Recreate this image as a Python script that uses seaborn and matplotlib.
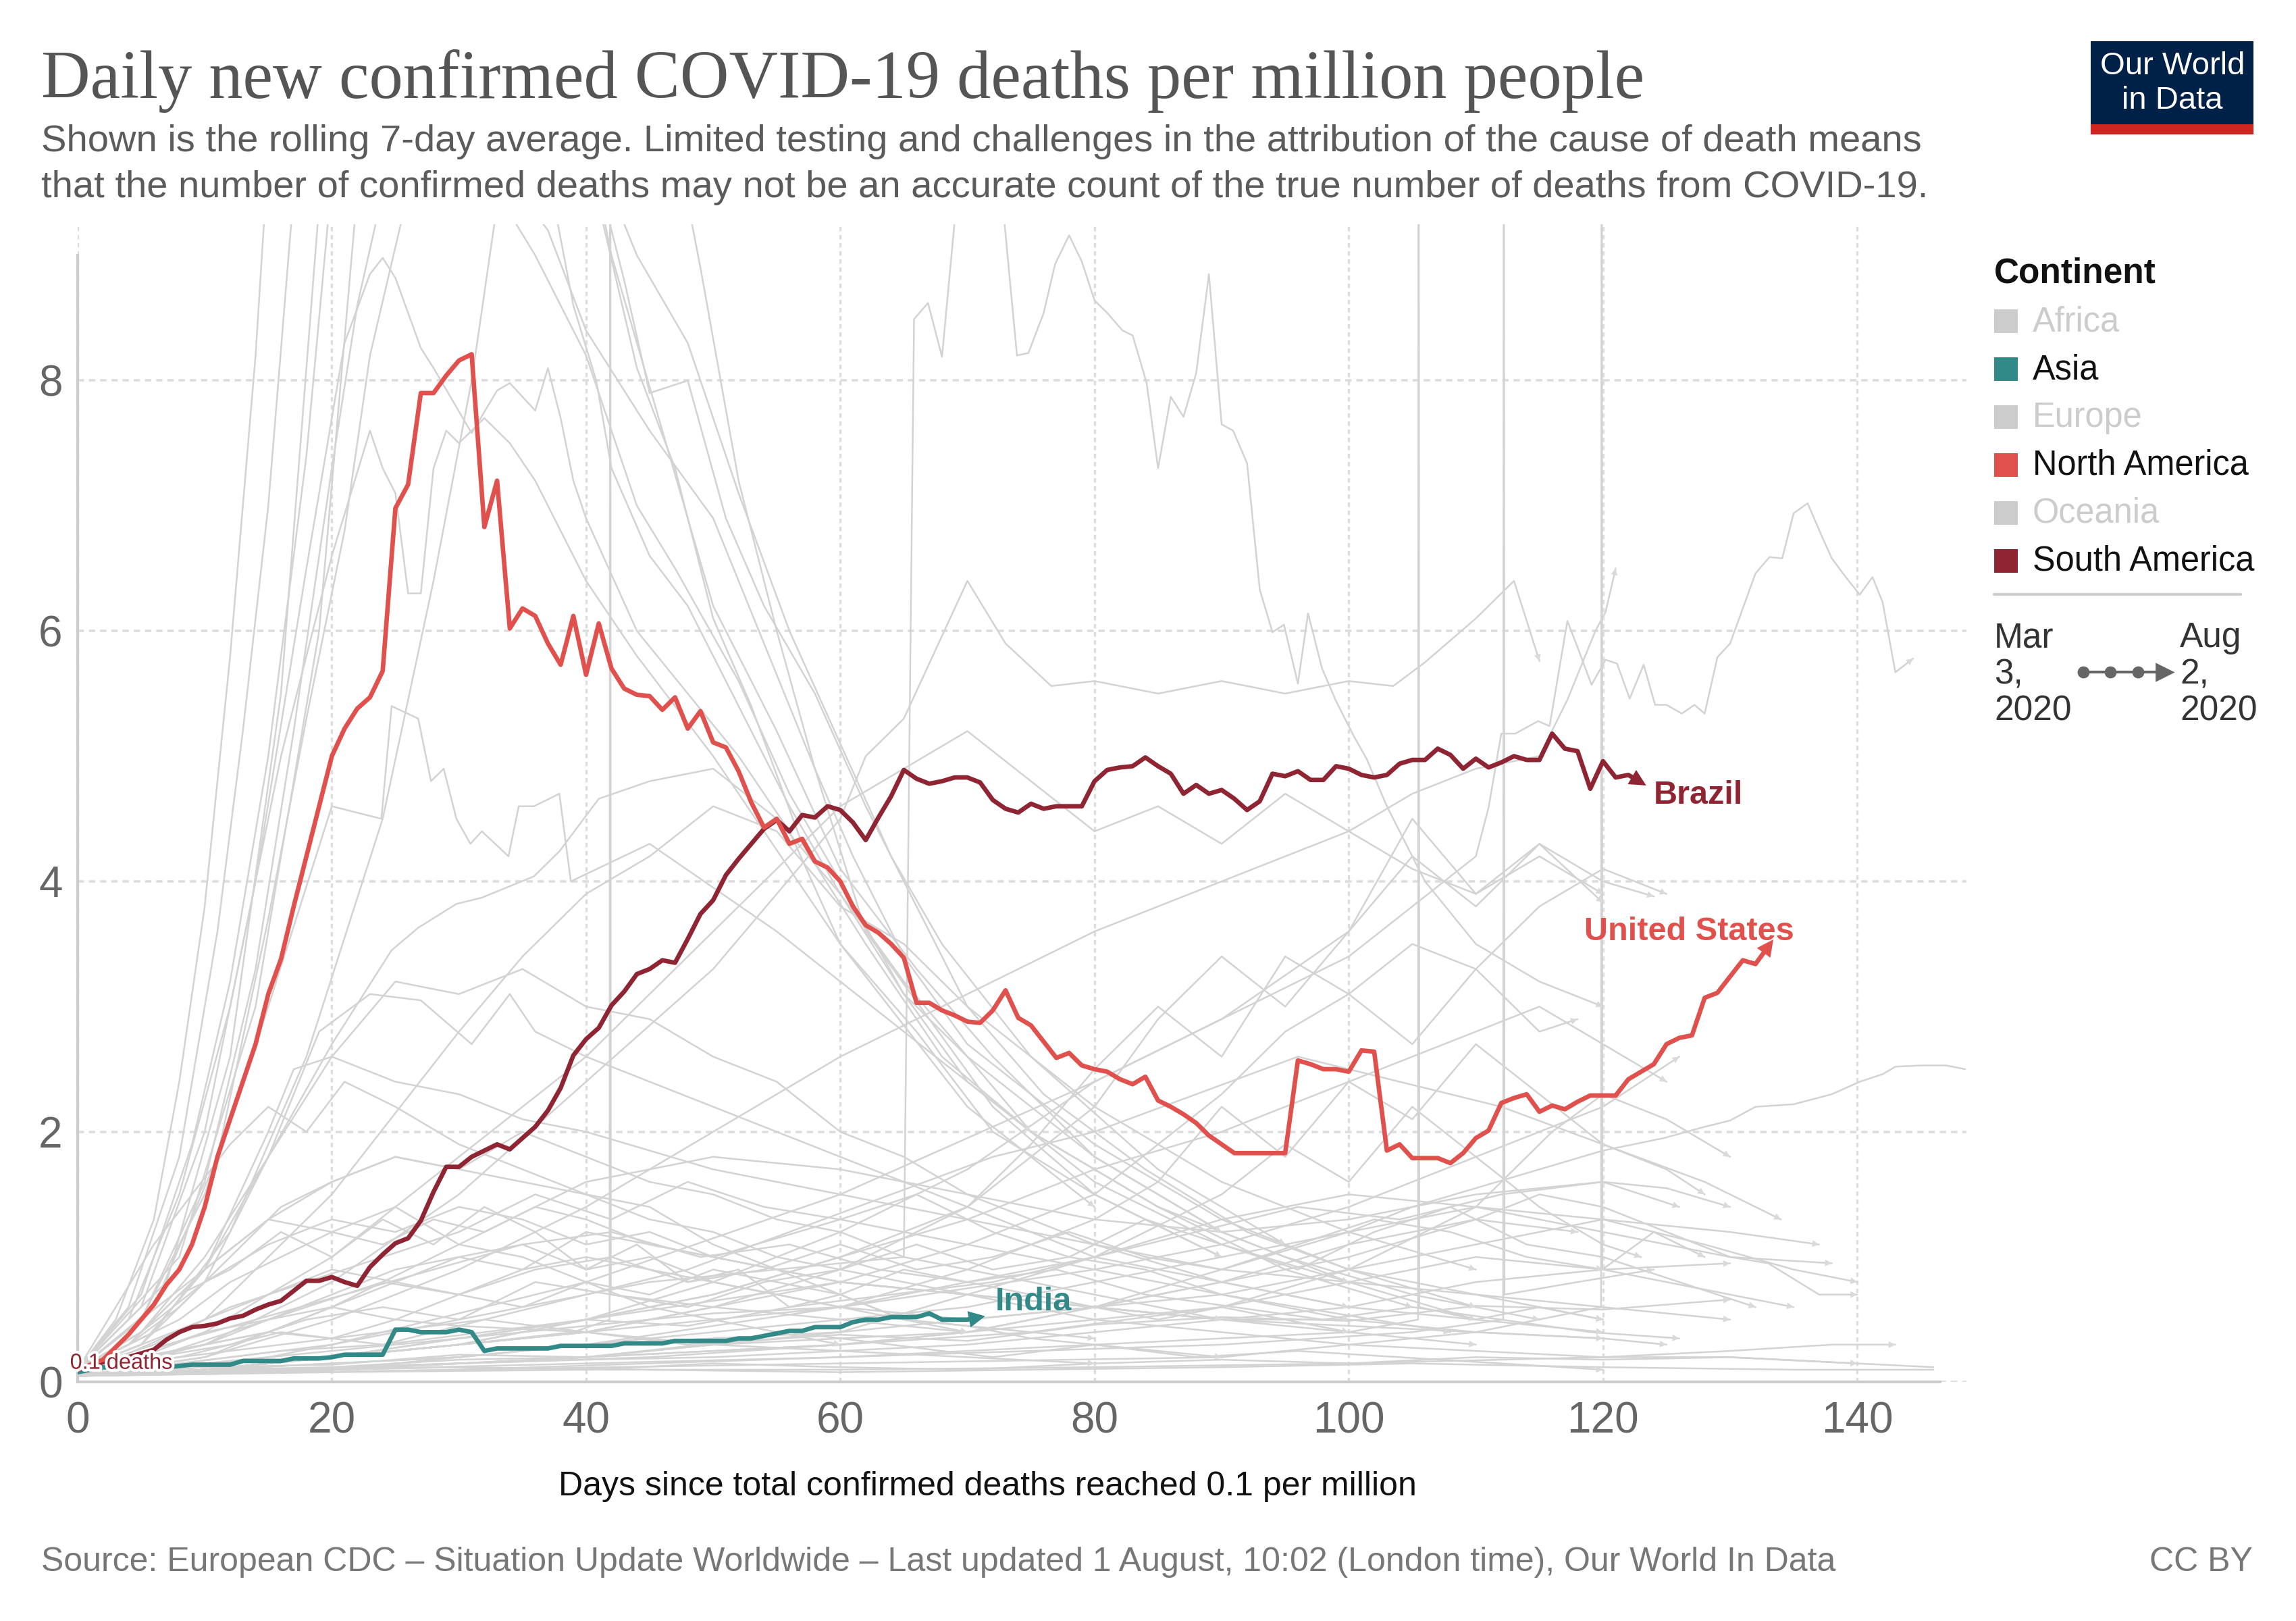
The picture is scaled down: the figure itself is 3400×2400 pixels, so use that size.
import numpy as np
import pandas as pd
import seaborn as sns
import matplotlib
matplotlib.use("Agg")
import matplotlib.pyplot as plt
from matplotlib.patches import Rectangle
import matplotlib.patheffects as pe

# ---------------- data ----------------
us_values = [0.10, 0.14, 0.18, 0.28, 0.38, 0.50, 0.62, 0.78, 0.90, 1.10,
             1.40, 1.80, 2.10, 2.40, 2.70, 3.10, 3.38, 3.80, 4.20, 4.60,
             5.00, 5.22, 5.38, 5.47, 5.68, 6.98, 7.17, 7.90, 7.90, 8.04,
             8.16, 8.21, 6.83, 7.20, 6.02, 6.18, 6.12, 5.90, 5.73, 6.12,
             5.65, 6.06, 5.70, 5.54, 5.49, 5.48, 5.37, 5.47, 5.22, 5.36,
             5.11, 5.07, 4.88, 4.63, 4.43, 4.50, 4.30, 4.34, 4.16, 4.11,
             4.00, 3.80, 3.65, 3.59, 3.50, 3.39, 3.03, 3.03, 2.97, 2.93,
             2.88, 2.87, 2.97, 3.13, 2.91, 2.85, 2.72, 2.59, 2.63, 2.53,
             2.50, 2.48, 2.42, 2.38, 2.44, 2.25, 2.20, 2.14, 2.07, 1.97,
             1.90, 1.83, 1.83, 1.83, 1.83, 1.83, 2.57, 2.54, 2.50, 2.50,
             2.48, 2.65, 2.64, 1.85, 1.90, 1.79, 1.79, 1.79, 1.75, 1.83,
             1.95, 2.01, 2.23, 2.27, 2.30, 2.16, 2.21, 2.18, 2.24, 2.29,
             2.29, 2.29, 2.42, 2.48, 2.54, 2.70, 2.75, 2.77, 3.07, 3.11,
             3.24, 3.37, 3.34, 3.48]

brazil_values = [0.10, 0.13, 0.16, 0.19, 0.20, 0.23, 0.26, 0.34, 0.40, 0.44,
                 0.45, 0.47, 0.51, 0.53, 0.58, 0.62, 0.65, 0.73, 0.81, 0.81,
                 0.84, 0.80, 0.77, 0.92, 1.02, 1.11, 1.15, 1.29, 1.52, 1.72,
                 1.72, 1.80, 1.85, 1.90, 1.86, 1.95, 2.04, 2.17, 2.35, 2.61,
                 2.74, 2.83, 3.01, 3.12, 3.26, 3.30, 3.37, 3.35, 3.54, 3.74,
                 3.85, 4.05, 4.18, 4.30, 4.42, 4.49, 4.40, 4.53, 4.51, 4.60,
                 4.57, 4.47, 4.33, 4.51, 4.68, 4.89, 4.82, 4.78, 4.80, 4.83,
                 4.83, 4.79, 4.65, 4.58, 4.55, 4.62, 4.58, 4.60, 4.60, 4.60,
                 4.80, 4.89, 4.91, 4.92, 4.99, 4.92, 4.86, 4.70, 4.77, 4.70,
                 4.73, 4.66, 4.57, 4.64, 4.86, 4.84, 4.88, 4.81, 4.81, 4.92,
                 4.90, 4.85, 4.83, 4.85, 4.94, 4.97, 4.97, 5.06, 5.01, 4.90,
                 4.98, 4.91, 4.95, 5.00, 4.97, 4.97, 5.18, 5.06, 5.04, 4.74,
                 4.96, 4.83, 4.85, 4.79]

india_values = [0.08, 0.10, 0.12, 0.12, 0.12, 0.12, 0.12, 0.12, 0.13, 0.14,
                0.14, 0.14, 0.14, 0.17, 0.17, 0.17, 0.17, 0.19, 0.19, 0.19,
                0.20, 0.22, 0.22, 0.22, 0.22, 0.42, 0.42, 0.40, 0.40, 0.40,
                0.42, 0.40, 0.25, 0.27, 0.27, 0.27, 0.27, 0.27, 0.29, 0.29,
                0.29, 0.29, 0.29, 0.31, 0.31, 0.31, 0.31, 0.33, 0.33, 0.33,
                0.33, 0.33, 0.35, 0.35, 0.37, 0.39, 0.41, 0.41, 0.44, 0.44,
                0.44, 0.48, 0.50, 0.50, 0.52, 0.52, 0.52, 0.55, 0.50, 0.50,
                0.50, 0.52]

# other countries, drawn in grey: (days, values)
grey_series = [
    ([0, 3, 6, 8, 10, 12, 14, 15, 20, 30, 38, 42, 46, 50, 55, 60, 66, 72, 80, 90, 100, 110],
     [0.1, 0.5, 1.3, 2.4, 3.8, 5.8, 8.2, 9.8, 13, 14, 11, 9.0, 7.6, 6.2, 5.2, 4.1, 3.3, 2.6, 1.8, 1.2, 0.8, 0.5]),
    ([0, 4, 8, 11, 13, 15, 17, 25, 35, 41, 44, 47, 50, 53, 57, 62, 68, 75, 85, 95, 105, 115],
     [0.1, 0.6, 1.8, 3.6, 5.2, 7.0, 9.5, 12, 12, 9.4, 8.1, 7.3, 6.1, 5.4, 4.3, 3.5, 2.6, 2.0, 1.4, 1.0, 0.7, 0.5]),
    ([0, 5, 9, 12, 15, 18, 20, 30, 40, 43, 45, 48, 51, 54, 58, 62, 66, 70, 76, 84, 92, 100, 110, 120],
     [0.1, 0.7, 1.9, 3.2, 5.0, 7.4, 9.6, 11, 10, 8.8, 7.9, 8.0, 6.9, 6.2, 5.5, 4.6, 3.8, 3.0, 2.3, 1.7, 1.2, 0.9, 0.7, 0.5]),
    ([0, 5, 10, 14, 17, 20, 22, 24, 30, 36, 40, 44, 47, 52, 56, 60, 65, 70, 80, 90, 100],
     [0.1, 0.5, 1.6, 3.3, 5.2, 7.3, 8.6, 9.5, 10, 9.0, 8.2, 7.0, 6.5, 5.6, 4.7, 4.0, 3.1, 2.4, 1.6, 1.1, 0.8]),
    ([0, 6, 11, 15, 18, 21, 23, 26, 30, 34, 37, 40, 45, 50, 54, 58, 62, 67, 72, 80, 90],
     [0.1, 0.6, 1.8, 3.7, 5.3, 6.8, 8.2, 9.5, 10.5, 9.6, 9.2, 8.4, 7.6, 6.9, 5.9, 4.9, 3.6, 2.9, 2.2, 1.5, 1.0]),
    ([0, 8, 14, 19, 22, 30, 40, 44, 48, 52, 56, 60, 64, 68, 75, 85, 95],
     [0.1, 1.0, 3.0, 6.0, 9.5, 12, 10, 9.0, 8.3, 7.1, 6.0, 5.1, 4.2, 3.5, 2.6, 1.7, 1.1]),
    ([0, 7, 12, 16, 19, 30, 45, 49, 52, 55, 58, 61, 65, 70, 80, 90, 100, 110],
     [0.1, 0.8, 2.6, 5.5, 9.4, 13, 11, 8.9, 7.2, 6.0, 4.9, 4.2, 3.4, 2.7, 1.9, 1.3, 0.9, 0.6]),
    ([0, 5, 10, 15, 20, 25, 30, 35, 40, 45, 50, 55, 60, 65, 65.8, 66.9, 68, 69.3, 72.6, 73.9, 74.8, 76,
      76.9, 78, 79, 80, 81, 82.2, 83, 84.1, 85, 86, 87, 88, 89, 90, 90.9, 92, 93, 94, 94.9, 96, 96.8,
      97.9, 99, 100.4, 101.4, 103, 106, 110, 115, 120],
     [0.05, 0.1, 0.15, 0.2, 0.3, 0.4, 0.5, 0.6, 0.7, 0.8, 0.85, 0.9, 0.95, 1.0, 8.49, 8.62, 8.19, 9.6,
      9.6, 8.2, 8.22, 8.54, 8.93, 9.16, 8.95, 8.64, 8.54, 8.40, 8.36, 7.98, 7.30, 7.87, 7.71, 8.06, 8.85,
      7.65, 7.60, 7.34, 6.33, 5.99, 6.05, 5.58, 6.14, 5.70, 5.44, 5.16, 4.98, 4.6, 4.0, 3.5, 3.2, 3.0]),
    ([0, 5, 10, 14, 18, 21, 23, 24, 25, 27, 28, 31, 33, 34, 36, 37, 38, 39, 40, 44, 48, 52, 56, 60, 66, 72, 80, 90],
     [0.1, 0.6, 2.0, 4.0, 6.5, 8.3, 8.85, 8.98, 8.82, 8.26, 8.1, 7.58, 7.92, 7.98, 7.76, 8.1, 7.7, 7.2, 6.9,
      6.0, 5.5, 5.0, 4.4, 3.5, 2.8, 2.0, 1.5, 1.0]),
    ([0, 4, 8, 12, 16, 20, 23, 24, 25, 26, 27, 28, 29, 30, 32, 34, 36, 40, 44, 50, 60, 70, 80],
     [0.1, 0.5, 1.5, 3.0, 5.0, 6.6, 7.6, 7.3, 7.1, 6.3, 6.3, 7.3, 7.6, 7.5, 7.7, 7.5, 7.2, 6.4, 5.8, 5.0, 3.5, 2.2, 1.4]),
    ([0, 5, 10, 15, 20, 23.9, 24.7, 26.8, 27.8, 28.8, 29.8, 30.9, 31.8, 33.9, 34.7, 35.9, 37.9, 38.8, 45, 55, 65, 75],
     [0.1, 0.5, 1.5, 3.0, 4.6, 4.5, 5.4, 5.3, 4.8, 4.9, 4.5, 4.3, 4.4, 4.2, 4.6, 4.6, 4.7, 4.0, 4.3, 3.6, 2.8, 2.0]),
    ([0, 6, 12, 18, 24, 28, 31, 33, 36, 39, 40.8, 42, 45, 48, 52, 56, 60, 65, 70, 75, 85, 95, 105],
     [0.1, 0.4, 1.2, 2.6, 4.5, 6.4, 8.0, 9.4, 10.2, 8.6, 8.0, 7.3, 6.6, 6.2, 5.4, 4.6, 3.9, 3.1, 2.6, 2.0, 1.4, 0.9, 0.6]),
    ([0, 5, 10, 15, 20, 24.7, 26.8, 29.8, 31.8, 35.9, 37.9, 41, 45, 50, 55, 60, 65, 70, 80, 90],
     [0.1, 0.3, 0.9, 1.8, 2.7, 3.45, 3.63, 3.82, 3.87, 4.04, 4.24, 4.66, 4.8, 4.9, 4.5, 3.9, 3.2, 2.6, 1.8, 1.2]),
    ([0, 5, 10, 15, 19, 23, 27, 31, 34, 36, 40, 45, 50, 60, 70, 80, 100, 120],
     [0.1, 0.3, 0.8, 1.8, 2.8, 3.1, 3.05, 2.7, 3.1, 2.8, 2.6, 2.4, 2.2, 1.8, 1.4, 1.0, 0.6, 0.4]),
    ([0, 5, 10, 15, 17, 20, 25, 30, 35, 40, 50, 60, 70, 80, 90, 100, 110, 120, 130],
     [0.1, 0.3, 0.9, 2.0, 2.5, 2.6, 2.4, 2.3, 2.1, 2.0, 1.7, 1.5, 1.3, 1.1, 0.9, 0.8, 0.7, 0.6, 0.5]),
    ([0, 5, 10, 15, 20, 25, 30, 35, 40, 45, 50, 55, 60, 65, 70, 75, 80, 90, 100],
     [0.1, 0.4, 1.0, 1.8, 2.6, 3.2, 3.1, 3.3, 3.0, 2.9, 2.6, 2.4, 2.0, 1.8, 1.5, 1.3, 1.1, 0.8, 0.6]),
    ([0, 10, 20, 30, 35, 40, 45, 50, 55, 60, 65, 70, 75, 80, 85, 90, 100, 110],
     [0.05, 0.5, 1.5, 2.8, 3.4, 3.9, 4.2, 4.6, 4.4, 3.8, 3.5, 3.0, 2.6, 2.2, 1.9, 1.6, 1.2, 0.9]),
    ([0, 10, 20, 30, 40, 45, 50, 55, 60, 65, 70, 75, 80, 85, 90, 95, 100, 105, 110, 115, 120],
     [0.05, 0.4, 1.0, 1.8, 2.6, 3.1, 3.6, 4.1, 4.6, 4.9, 5.2, 4.8, 4.4, 4.6, 4.3, 4.7, 4.4, 4.1, 3.9, 4.2, 3.9]),
    ([0, 10, 20, 30, 40, 50, 60, 62, 65, 70, 73, 76.6, 80, 85, 90, 95, 100, 103.5, 106, 110, 112, 113, 115],
     [0.05, 0.3, 0.8, 1.5, 2.4, 3.3, 4.5, 5.0, 5.3, 6.4, 5.9, 5.56, 5.6, 5.5, 5.6, 5.5, 5.6, 5.56, 5.75, 6.1, 6.3, 6.4, 5.76]),
    ([0, 10, 20, 30, 40, 50, 60, 70, 80, 90, 100, 105, 110, 115, 117.2, 119.4, 120.2, 121],
     [0.05, 0.2, 0.5, 0.9, 1.4, 2.0, 2.6, 3.1, 3.6, 4.0, 4.4, 4.7, 4.9, 5.0, 5.45, 6.0, 6.15, 6.5]),
    ([0, 20, 40, 60, 80, 100, 110, 111, 112, 113.1, 114.9, 115.8, 117.2, 118, 119.1, 120.2, 121.1, 122.1,
      123.2, 124.1, 125, 126.2, 127.2, 128, 129, 130, 132, 133.1, 134.1, 135, 136.1, 137.2, 138, 139.1,
      140.2, 141.2, 142, 143, 144.4],
     [0.05, 0.3, 0.8, 1.5, 2.4, 3.4, 4.2, 4.59, 5.18, 5.18, 5.28, 5.24, 6.08, 5.87, 5.57, 5.77, 5.74, 5.46,
      5.73, 5.41, 5.41, 5.34, 5.41, 5.34, 5.79, 5.90, 6.46, 6.59, 6.58, 6.94, 7.02, 6.76, 6.58, 6.43,
      6.29, 6.43, 6.23, 5.67, 5.78]),
    ([0, 20, 40, 60, 70, 80, 90, 100, 105, 110, 115, 120, 124.8, 128, 130, 132, 135, 138, 140.2, 142, 143, 145, 147, 148.5],
     [0.05, 0.1, 0.2, 0.3, 0.4, 0.6, 0.9, 1.2, 1.4, 1.55, 1.7, 1.85, 1.95, 2.04, 2.09, 2.2, 2.22, 2.3, 2.4, 2.46, 2.52, 2.53, 2.53, 2.5]),
    ([0, 20, 40, 60, 80, 100, 105.45, 105.5, 105.55, 110, 115, 120],
     [0.05, 0.1, 0.15, 0.2, 0.3, 0.4, 0.5, 14, 0.6, 0.5, 0.6, 0.5]),
    ([0, 30, 60, 90, 105, 112.15, 112.2, 112.25, 118, 124],
     [0.05, 0.1, 0.2, 0.3, 0.4, 0.5, 14, 0.7, 0.8, 0.9]),
    ([0, 30, 60, 90, 110, 119.85, 119.9, 119.95, 124, 128],
     [0.05, 0.1, 0.15, 0.2, 0.4, 0.6, 14, 0.9, 1.2, 1.0]),
    ([0, 10, 20, 30, 39, 41.85, 41.9, 41.95, 50, 60, 70],
     [0.05, 0.1, 0.2, 0.3, 0.4, 0.5, 14, 0.7, 0.6, 0.5, 0.4]),
    ([0, 5, 10, 15, 20, 25, 30, 35, 40, 45, 50, 60, 70, 80, 90, 100, 110, 120, 125],
     [0.1, 0.4, 0.8, 1.1, 1.3, 1.2, 1.4, 1.3, 1.1, 1.2, 1.0, 0.8, 0.7, 0.6, 0.5, 0.5, 0.4, 0.35, 0.3]),
    ([0, 4, 8, 12, 16, 20, 24, 28, 32, 36, 40, 44, 48, 52, 56, 60, 65, 70, 75, 80, 85, 90],
     [0.1, 0.3, 0.7, 0.9, 1.2, 1.0, 1.3, 1.1, 1.4, 1.2, 0.9, 1.1, 0.8, 0.9, 0.6, 0.7, 0.5, 0.45, 0.35, 0.3, 0.25, 0.2]),
    ([0, 6, 12, 18, 24, 30, 36, 42, 48, 54, 60, 66, 72, 78, 84, 90, 96, 102, 108, 114, 120],
     [0.05, 0.2, 0.4, 0.6, 0.8, 0.7, 0.9, 1.0, 0.8, 0.9, 1.1, 0.9, 1.0, 1.2, 1.0, 0.9, 1.1, 1.3, 1.2, 1.0, 0.9]),
    ([0, 5, 10, 15, 20, 25, 30, 35, 40, 50, 60, 70, 80, 90, 100, 110, 118],
     [0.1, 0.2, 0.3, 0.5, 0.6, 0.8, 0.7, 0.9, 1.0, 0.8, 0.6, 0.5, 0.6, 0.8, 1.1, 1.3, 1.2]),
    ([0, 8, 16, 24, 32, 40, 48, 56, 64, 72, 80, 88, 96, 104, 112, 120, 126],
     [0.05, 0.15, 0.25, 0.3, 0.4, 0.5, 0.45, 0.6, 0.7, 0.8, 1.0, 1.2, 1.4, 1.3, 1.5, 1.6, 1.4]),
    ([0, 10, 20, 30, 40, 50, 60, 70, 80, 90, 100, 110, 120, 130],
     [0.05, 0.12, 0.14, 0.22, 0.2, 0.31, 0.38, 0.33, 0.46, 0.52, 0.49, 0.61, 0.58, 0.66]),
    ([0, 3, 6, 9, 12, 15, 18, 21, 25, 30, 35, 40, 45, 50, 55, 60, 65, 70],
     [0.1, 0.6, 1.1, 1.5, 1.9, 2.2, 2.0, 2.4, 2.2, 1.9, 1.7, 1.5, 1.4, 1.1, 0.9, 0.7, 0.5, 0.4]),
    ([0, 4, 8, 12, 16, 20, 25, 30, 35, 40, 45, 50, 55, 60, 70, 80, 90, 100, 110, 120, 130, 140],
     [0.1, 0.3, 0.6, 1.0, 1.4, 1.6, 1.8, 1.7, 1.6, 1.5, 1.3, 1.2, 1.0, 0.9, 0.7, 0.5, 0.4, 0.3, 0.25, 0.2, 0.2, 0.15]),
    ([0, 6, 12, 18, 24, 30, 36, 42, 48, 54, 60, 66, 72, 78, 84, 90, 96, 102, 108, 114, 120, 126, 132],
     [0.05, 0.2, 0.3, 0.5, 0.6, 0.5, 0.8, 0.7, 0.6, 0.8, 0.9, 1.1, 0.9, 1.0, 1.3, 1.1, 0.9, 1.2, 1.4, 1.1, 1.0, 0.8, 0.6]),
    ([0, 5, 10, 15, 20, 25, 30, 35, 40, 45, 50, 55, 60],
     [0.1, 0.5, 0.9, 1.3, 1.2, 1.4, 1.1, 1.0, 0.8, 0.6, 0.5, 0.4, 0.3]),
    ([0, 10, 20, 30, 40, 50, 60, 70, 80, 85, 90, 95, 100, 105, 110, 115, 120, 125],
     [0.05, 0.1, 0.2, 0.3, 0.4, 0.6, 0.8, 1.1, 1.5, 1.9, 2.3, 2.8, 3.1, 3.5, 3.3, 3.8, 4.1, 3.9]),
    ([0, 10, 20, 30, 40, 50, 60, 70, 75, 80, 85, 90, 95, 100, 105, 110, 115, 120, 124],
     [0.05, 0.15, 0.2, 0.35, 0.5, 0.7, 1.0, 1.4, 1.8, 2.2, 2.9, 3.4, 3.0, 3.6, 4.2, 3.8, 4.3, 4.0, 3.88]),
    ([0, 10, 20, 30, 40, 50, 60, 70, 80, 90, 100, 105, 110, 115, 120],
     [0.05, 0.1, 0.2, 0.3, 0.5, 0.8, 1.2, 1.7, 2.4, 2.9, 3.6, 4.5, 3.9, 4.3, 3.83]),
    ([0, 8, 16, 24, 32, 40, 48, 56, 64, 72, 80, 88, 96, 104, 112, 120, 128, 134],
     [0.1, 0.2, 0.3, 0.4, 0.5, 0.7, 0.9, 1.2, 1.5, 1.8, 2.0, 2.3, 2.6, 2.4, 2.2, 1.9, 1.6, 1.3]),
    ([0, 10, 20, 30, 40, 50, 60, 70, 80, 90, 100, 110, 120, 128, 135, 140],
     [0.05, 0.1, 0.15, 0.2, 0.3, 0.4, 0.5, 0.6, 0.8, 1.0, 1.2, 1.4, 1.3, 1.1, 0.9, 0.8]),
    ([0, 10, 20, 30, 40, 50, 60, 70, 80, 90, 100, 110, 115, 120, 125, 130, 133, 137, 140],
     [0.05, 0.1, 0.1, 0.15, 0.2, 0.25, 0.3, 0.4, 0.6, 0.8, 1.0, 1.3, 1.5, 1.4, 1.2, 1.0, 0.95, 0.7, 0.7]),
    ([0, 8, 16, 24, 32, 40, 48, 56, 64, 72, 80, 88, 96, 104, 112, 120],
     [0.1, 0.2, 0.4, 0.3, 0.5, 0.4, 0.3, 0.4, 0.3, 0.2, 0.3, 0.2, 0.25, 0.2, 0.15, 0.1]),
    ([0, 10, 20, 30, 40, 50, 60, 70, 80, 90, 100, 110, 120, 130, 140, 146],
     [0.05, 0.08, 0.1, 0.12, 0.1, 0.15, 0.12, 0.1, 0.15, 0.18, 0.15, 0.2, 0.18, 0.2, 0.15, 0.12]),
    ([0, 5, 10, 15, 20, 25, 30, 35, 40, 50, 60, 70, 80, 90, 100],
     [0.1, 0.2, 0.4, 0.5, 0.7, 0.9, 1.0, 0.9, 1.2, 1.0, 1.3, 1.1, 0.9, 0.7, 0.5]),
    ([0, 6, 12, 18, 24, 30, 36, 42, 48, 54, 60, 66, 72, 78, 84, 90, 96, 102, 108],
     [0.1, 0.3, 0.6, 0.8, 1.0, 1.2, 1.5, 1.3, 1.6, 1.4, 1.3, 1.5, 1.2, 1.0, 0.9, 0.7, 0.6, 0.5, 0.4]),
    ([0, 10, 20, 30, 40, 50, 60, 70, 80, 90, 100, 110, 120, 130],
     [0.05, 0.08, 0.12, 0.15, 0.18, 0.2, 0.25, 0.3, 0.4, 0.5, 0.6, 0.8, 0.9, 0.95]),
    ([0, 10, 20, 30, 40, 50, 60, 70, 80, 90, 100, 110, 120, 126],
     [0.05, 0.15, 0.25, 0.35, 0.45, 0.55, 0.6, 0.75, 0.9, 1.1, 1.4, 1.8, 2.2, 2.6]),
    ([0, 10, 20, 30, 40, 50, 60, 70, 80, 90, 100, 110, 115, 120, 125],
     [0.05, 0.1, 0.2, 0.3, 0.5, 0.7, 1.0, 1.3, 1.7, 2.0, 2.4, 2.8, 3.0, 2.7, 2.4]),
    ([0, 20, 40, 60, 80, 100, 120, 130, 138, 143],
     [0.05, 0.08, 0.1, 0.1, 0.12, 0.15, 0.2, 0.25, 0.3, 0.3]),
    ([0, 5, 10, 15, 20, 25, 30, 40, 50, 60, 70, 80],
     [0.1, 0.2, 0.3, 0.4, 0.35, 0.5, 0.45, 0.4, 0.3, 0.25, 0.2, 0.15]),
    ([0, 15, 30, 45, 60, 75, 90, 105, 120, 135, 146],
     [0.05, 0.1, 0.12, 0.1, 0.08, 0.1, 0.12, 0.15, 0.12, 0.1, 0.1]),
    ([0, 10, 20, 30, 40, 50, 60, 70, 80, 90, 100, 110, 120, 125, 130, 138],
     [0.05, 0.1, 0.2, 0.3, 0.4, 0.5, 0.6, 0.8, 1.0, 1.3, 1.5, 1.4, 1.2, 1.1, 1.0, 0.95]),
    ([0, 10, 20, 30, 40, 50, 60, 70, 80, 90, 100, 110, 120, 130, 135],
     [0.05, 0.1, 0.12, 0.18, 0.2, 0.3, 0.35, 0.4, 0.5, 0.6, 0.8, 1.0, 0.9, 0.7, 0.6]),
    ([0, 10, 20, 30, 40, 50, 60, 70, 75, 80, 85, 90, 95, 100, 105, 110, 115, 118],
     [0.05, 0.1, 0.2, 0.3, 0.4, 0.6, 0.9, 1.4, 1.9, 2.5, 3.0, 2.6, 3.4, 3.1, 2.7, 3.3, 2.8, 2.9]),
    ([0, 20, 40, 60, 70, 80, 85, 90, 95, 100, 105, 110, 115, 120, 125, 128],
     [0.05, 0.1, 0.3, 0.6, 0.9, 1.3, 1.6, 2.2, 1.8, 2.4, 2.1, 2.7, 2.3, 1.9, 1.7, 1.5]),
    ([0, 20, 40, 60, 70, 80, 90, 95, 100, 105, 110, 115, 120, 123],
     [0.05, 0.1, 0.2, 0.4, 0.7, 1.0, 1.5, 1.9, 1.6, 2.2, 1.8, 1.4, 1.1, 1.0]),
    ([0, 10, 20, 30, 40, 50, 60, 70, 80, 90, 100, 110, 120, 125, 130],
     [0.05, 0.2, 0.6, 1.1, 1.6, 1.8, 1.7, 1.5, 1.3, 1.2, 1.3, 1.5, 1.6, 1.55, 1.4]),
    ([0, 5, 10, 15, 20, 25, 30, 35, 40, 45, 50, 55, 60, 65, 70, 75, 80],
     [0.1, 0.3, 0.5, 0.7, 0.9, 0.8, 1.0, 1.1, 0.9, 1.0, 0.8, 0.7, 0.6, 0.5, 0.45, 0.4, 0.35]),
    ([0, 5, 10, 15, 20, 25, 30, 35, 40, 45, 50, 55, 60, 65, 70, 75, 80, 85, 90, 95, 100],
     [0.05, 0.2, 0.3, 0.4, 0.6, 0.5, 0.7, 0.6, 0.8, 0.7, 0.9, 0.8, 0.7, 0.9, 0.8, 0.7, 0.6, 0.5, 0.6, 0.5, 0.4]),
    ([0, 10, 20, 30, 40, 50, 60, 70, 80, 90, 100, 110, 120, 130, 137],
     [0.05, 0.1, 0.15, 0.2, 0.3, 0.35, 0.4, 0.5, 0.6, 0.7, 0.9, 1.1, 1.3, 1.2, 1.1]),
    ([0, 7, 14, 21, 28, 35, 42, 49, 56, 63, 70, 77, 84, 91, 98, 105, 112, 119, 126],
     [0.05, 0.3, 0.5, 0.7, 0.9, 1.1, 1.2, 1.0, 1.1, 0.9, 0.8, 0.9, 0.7, 0.6, 0.5, 0.6, 0.5, 0.4, 0.35]),
    ([0, 10, 20, 30, 40, 50, 60, 70, 80, 90, 100, 110, 120],
     [0.05, 0.1, 0.2, 0.35, 0.5, 0.65, 0.8, 0.7, 0.6, 0.5, 0.45, 0.4, 0.35]),
    ([0, 15, 30, 45, 60, 75, 90, 100, 110, 116, 120, 125, 130],
     [0.05, 0.1, 0.15, 0.2, 0.3, 0.4, 0.6, 0.9, 1.4, 2.0, 2.3, 2.1, 1.8]),
    ([0, 5, 10, 15, 20, 25, 30, 35, 40, 45, 50, 55, 60, 65, 70, 80, 90],
     [0.1, 0.4, 0.9, 1.3, 1.6, 1.8, 1.7, 2.0, 1.8, 1.6, 1.5, 1.3, 1.2, 1.0, 0.9, 0.7, 0.5]),
    ([0, 4, 8, 12, 16, 20, 24, 28, 32, 36, 40, 45, 50, 55, 60, 70, 80, 90, 100, 110],
     [0.1, 0.3, 0.5, 0.8, 1.0, 1.2, 1.1, 1.3, 1.2, 1.4, 1.3, 1.1, 1.0, 0.9, 0.8, 0.7, 0.6, 0.5, 0.4, 0.3]),
]

continents = ["Africa", "Asia", "Europe", "North America", "Oceania", "South America"]
continent_colors = ["#cccccc", "#318a87", "#cccccc", "#e0504c", "#cccccc", "#8f2533"]
continent_active = [False, True, False, True, False, True]

x_ticks = [0, 20, 40, 60, 80, 100, 120, 140]
y_ticks = [0, 2, 4, 6, 8]

# ---------------- frames ----------------
rows = []
for i, (days, vals) in enumerate(grey_series):
    for d, v in zip(days, vals):
        rows.append((f"c{i}", d, v))
grey_df = pd.DataFrame(rows, columns=["country", "day", "value"])

highlight = {
    "India": (india_values, "#318a87"),
    "Brazil": (brazil_values, "#8f2533"),
    "United States": (us_values, "#e0504c"),
}

# ---------------- figure ----------------
sns.set_style("white")
plt.rcParams["font.family"] = ["Liberation Sans", "DejaVu Sans"]

fig = plt.figure(figsize=(17, 12), dpi=200)
ax = fig.add_axes([0.0338, 0.1473, 0.8227, 0.7145])

sns.lineplot(data=grey_df, x="day", y="value", units="country", estimator=None,
             color="#d3d3d3", lw=0.9, sort=False, legend=False, ax=ax, zorder=2)

# small arrowheads at the end of grey series
for days, vals in grey_series:
    if days[-1] < 146 and vals[-1] < 9:
        ax.annotate("", xy=(days[-1], vals[-1]), xytext=(days[-2], vals[-2]),
                    arrowprops=dict(arrowstyle="-|>", color="#dadada", lw=0,
                                    mutation_scale=9, shrinkA=0, shrinkB=0), zorder=2)

for z, (name, (vals, col)) in enumerate(highlight.items()):
    df = pd.DataFrame({"day": np.arange(len(vals)), "value": vals})
    sns.lineplot(data=df, x="day", y="value", color=col, lw=2.4, ax=ax, zorder=5 + z)
    ax.annotate("", xy=(len(vals) - 1 + 0.4, vals[-1] + (vals[-1] - vals[-2]) * 0.4),
                xytext=(len(vals) - 2, vals[-2]),
                arrowprops=dict(arrowstyle="-|>", color=col, lw=0, mutation_scale=22,
                                shrinkA=0, shrinkB=0), zorder=5 + z)

ax.set_xlim(0, 148.6)
ax.set_ylim(0, 9.25)
ax.set_xticks(x_ticks)
ax.set_yticks(y_ticks)
ax.set_xlabel("")
ax.set_ylabel("")
ax.tick_params(axis="both", length=0, labelsize=23, labelcolor="#666666")
ax.tick_params(axis="x", pad=10)
ax.tick_params(axis="y", pad=8)

ax.yaxis.grid(True, ls=(0, (2.6, 2.0)), color="#dddddd", lw=1.3, zorder=0)
ax.xaxis.grid(True, ls=(0, (2.0, 1.6)), color="#dddddd", lw=1.2, zorder=0)
for s in ["top", "right"]:
    ax.spines[s].set_visible(False)
ax.spines["left"].set_color("#cccccc")
ax.spines["left"].set_linewidth(1.5)
ax.spines["left"].set_bounds(0, 9.0)
ax.spines["bottom"].set_color("#cccccc")
ax.spines["bottom"].set_linewidth(1.5)
ax.spines["bottom"].set_bounds(0, 146.5)

# series labels
ax.text(124.0, 4.69, "Brazil", color="#8f2533", fontsize=17.5, fontweight="bold", va="center", ha="left", zorder=10)
ax.text(118.5, 3.60, "United States", color="#e0504c", fontsize=17.5, fontweight="bold", va="center", ha="left", zorder=10)
ax.text(72.2, 0.64, "India", color="#318a87", fontsize=17.5, fontweight="bold", va="center", ha="left", zorder=10)
ax.text(-0.6, 0.15, "0.1 deaths", color="#8f2533", fontsize=11.7, va="center", ha="left", zorder=12,
        path_effects=[pe.withStroke(linewidth=3, foreground="white")], clip_on=False)

# ---------------- titles and notes ----------------
fig.text(0.018, 0.9395, "Daily new confirmed COVID-19 deaths per million people",
         family=["Liberation Serif", "DejaVu Serif"], fontsize=36.2, color="#555555", va="baseline")
fig.text(0.018, 0.9065, "Shown is the rolling 7-day average. Limited testing and challenges in the attribution of the cause of death means",
         fontsize=20.2, color="#5b5b5b", va="baseline")
fig.text(0.018, 0.8785, "that the number of confirmed deaths may not be an accurate count of the true number of deaths from COVID-19.",
         fontsize=20.2, color="#5b5b5b", va="baseline")
fig.text(0.43, 0.0775, "Days since total confirmed deaths reached 0.1 per million",
         fontsize=18, color="#111111", ha="center", va="baseline")
fig.text(0.018, 0.031, "Source: European CDC – Situation Update Worldwide – Last updated 1 August, 10:02 (London time), Our World In Data",
         fontsize=18, color="#777777", va="baseline")
fig.text(0.981, 0.031, "CC BY", fontsize=18, color="#777777", va="baseline", ha="right")

# logo
fig.patches.append(Rectangle((0.9107, 0.9232), 0.0708, 0.0515, transform=fig.transFigure,
                             facecolor="#002147", edgecolor="none"))
fig.patches.append(Rectangle((0.9107, 0.9169), 0.0708, 0.0063, transform=fig.transFigure,
                             facecolor="#ce261e", edgecolor="none"))
fig.text(0.9461, 0.9590, "Our World", color="white", fontsize=17, ha="center", va="center")
fig.text(0.9461, 0.9378, "in Data", color="white", fontsize=17, ha="center", va="center")

# legend
lx = 0.8686
fig.text(lx, 0.8257, "Continent", fontsize=18.5, fontweight="bold", color="#111111", va="baseline")
for i, (name, col, act) in enumerate(zip(continents, continent_colors, continent_active)):
    yb = 0.7958 - i * 0.02955
    fig.patches.append(Rectangle((lx, yb - 0.0012), 0.0102, 0.0145, transform=fig.transFigure,
                                 facecolor=col, edgecolor="none"))
    fig.text(lx + 0.0166, yb, name, fontsize=18.2, color="#111111" if act else "#cccccc", va="baseline")
fig.lines.append(plt.Line2D([lx, 0.9758], [0.6333, 0.6333], transform=fig.transFigure,
                            color="#cccccc", lw=1.5))
# date range, one baseline per line
for j, (a, b) in enumerate(zip(["Mar", "3,", "2020"], ["Aug", "2,", "2020"])):
    yb = 0.6008 - j * 0.0225
    fig.text(lx, yb, a, fontsize=18.5, color="#333333", va="baseline")
    fig.text(0.9494, yb, b, fontsize=18.5, color="#333333", va="baseline")
fig.lines.append(plt.Line2D([0.9074, 0.942], [0.5854, 0.5854], transform=fig.transFigure,
                            color="#666666", lw=1.5))
fig.lines.append(plt.Line2D([0.9074, 0.9191, 0.9312], [0.5854] * 3, transform=fig.transFigure,
                            color="#666666", lw=0, marker="o", markersize=5.4))
fig.lines.append(plt.Line2D([0.9425], [0.5854], transform=fig.transFigure, color="#666666",
                            lw=0, marker=">", markersize=8.5))

fig.savefig("out.png", dpi=200)
